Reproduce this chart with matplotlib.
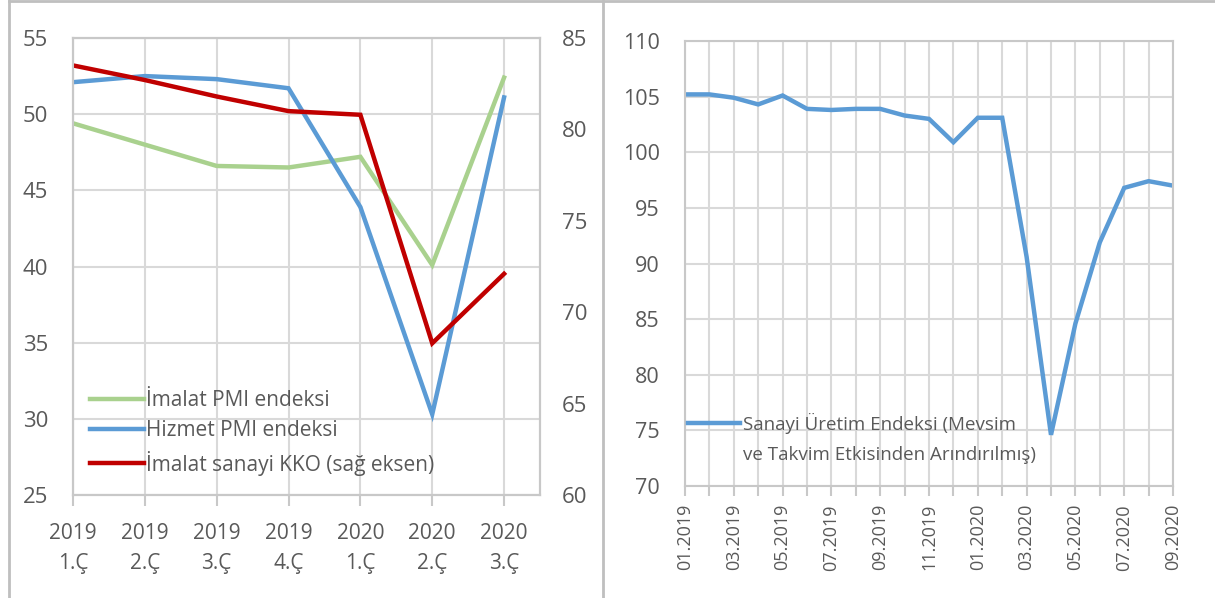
import matplotlib
matplotlib.use("Agg")
import matplotlib.pyplot as plt
from matplotlib.lines import Line2D

plt.rcParams['font.family'] = ['Open Sans', 'DejaVu Sans']

# left panel: quarterly data
quarters = ["2019\n1.Ç", "2019\n2.Ç", "2019\n3.Ç", "2019\n4.Ç",
            "2020\n1.Ç", "2020\n2.Ç", "2020\n3.Ç"]
imalat_pmi = [49.4, 48.0, 46.6, 46.5, 47.2, 40.1, 52.4]
hizmet_pmi = [52.1, 52.5, 52.3, 51.7, 43.9, 30.3, 51.1]
imalat_kko = [83.5, 82.7, 81.8, 81.0, 80.8, 68.3, 72.1]

# right panel: monthly industrial production index
months = ["01.2019", "02.2019", "03.2019", "04.2019", "05.2019", "06.2019",
          "07.2019", "08.2019", "09.2019", "10.2019", "11.2019", "12.2019",
          "01.2020", "02.2020", "03.2020", "04.2020", "05.2020", "06.2020",
          "07.2020", "08.2020", "09.2020"]
sanayi_uretim = [105.2, 105.2, 104.9, 104.3, 105.1, 103.9, 103.8, 103.9,
                 103.9, 103.3, 103.0, 100.9, 103.1, 103.1, 90.6, 74.6,
                 84.6, 91.9, 96.8, 97.4, 97.0]

GREEN = '#A9D18E'
BLUE = '#5B9BD5'
RED = '#C00000'
GRID = '#D9D9D9'
SPINE = '#C8C8C8'
TXT = '#595959'

W, H = 1215, 598
fig = plt.figure(figsize=(W / 100, H / 100), dpi=100)


def rect(l, t, r, b):
    return [l / W, 1 - b / H, (r - l) / W, (b - t) / H]


# ---- left chart ----
ax = fig.add_axes(rect(73, 38, 540, 495))
ax2 = ax.twinx()
x = list(range(len(quarters)))
l1, = ax.plot(x, imalat_pmi, color=GREEN, lw=3.2, solid_joinstyle='miter')
l2, = ax.plot(x, hizmet_pmi, color=BLUE, lw=3.2, solid_joinstyle='miter')
l3, = ax2.plot(x, imalat_kko, color=RED, lw=3.2, solid_joinstyle='miter')

ax.set_xlim(0, 6.5)
ax.set_ylim(25, 55)
ax.set_yticks(range(25, 56, 5))
ax2.set_ylim(60, 85)
ax2.set_yticks(range(60, 86, 5))
ax.set_xticks(x)
ax.set_xticklabels(quarters, linespacing=1.6)
ax.grid(True, color=GRID, lw=1.5)
ax.set_axisbelow(True)
ax.tick_params(axis='x', length=8, width=1.5, color=SPINE, pad=12,
               labelsize=15, labelcolor=TXT)
ax.tick_params(axis='y', length=0, pad=18, labelsize=16, labelcolor=TXT)
ax2.tick_params(axis='y', length=0, pad=16, labelsize=16, labelcolor=TXT)
for a in (ax, ax2):
    for s in a.spines.values():
        s.set_color(SPINE)
        s.set_linewidth(1.5)

ax.legend([l1, l2, l3],
          ["İmalat PMI endeksi", "Hizmet PMI endeksi",
           "İmalat sanayi KKO (sağ eksen)"],
          loc='upper left', bbox_to_anchor=(0.036, 0.23),
          frameon=False, fontsize=15, labelcolor=TXT,
          handlelength=2.6, handletextpad=0.1, borderpad=0,
          borderaxespad=0, labelspacing=0.45)

# ---- right chart ----
bx = fig.add_axes(rect(685, 41, 1173, 486))
m = list(range(len(months)))
l4, = bx.plot(m, sanayi_uretim, color=BLUE, lw=3.2, solid_joinstyle='miter')
bx.set_xlim(0, len(months) - 1)
bx.set_ylim(70, 110)
bx.set_yticks(range(70, 111, 5))
bx.set_xticks(m[::2])
bx.set_xticklabels(months[::2], rotation=90)
bx.set_xticks(m[1::2], minor=True)
bx.grid(True, which='both', color=GRID, lw=1.5)
bx.set_axisbelow(True)
bx.tick_params(axis='x', which='both', length=7, width=1.5, color=SPINE,
               pad=6, labelsize=13, labelcolor=TXT)
bx.tick_params(axis='y', length=0, pad=18, labelsize=15.5, labelcolor=TXT)
for s in bx.spines.values():
    s.set_color(SPINE)
    s.set_linewidth(1.5)

blank = Line2D([], [], color='none')
bx.legend([l4, blank],
          ["Sanayi Üretim Endeksi (Mevsim", "ve Takvim Etkisinden Arındırılmış)"],
          loc='upper left', bbox_to_anchor=(0.007, 0.165),
          frameon=False, fontsize=13.5, labelcolor=TXT,
          handlelength=2.75, handletextpad=0.15, borderpad=0,
          borderaxespad=0, labelspacing=0.65)

# panel borders
fig.add_artist(Line2D([9 / W, 1], [1 - 1 / H, 1 - 1 / H], color='#BFBFBF',
                      lw=2, transform=fig.transFigure))
fig.add_artist(Line2D([9 / W, 9 / W], [0, 1 - 1 / H], color='#BFBFBF',
                      lw=2, transform=fig.transFigure))
fig.add_artist(Line2D([603 / W, 603 / W], [0, 1 - 1 / H], color='#BFBFBF',
                      lw=2, transform=fig.transFigure))

fig.savefig("out.png", dpi=100)
